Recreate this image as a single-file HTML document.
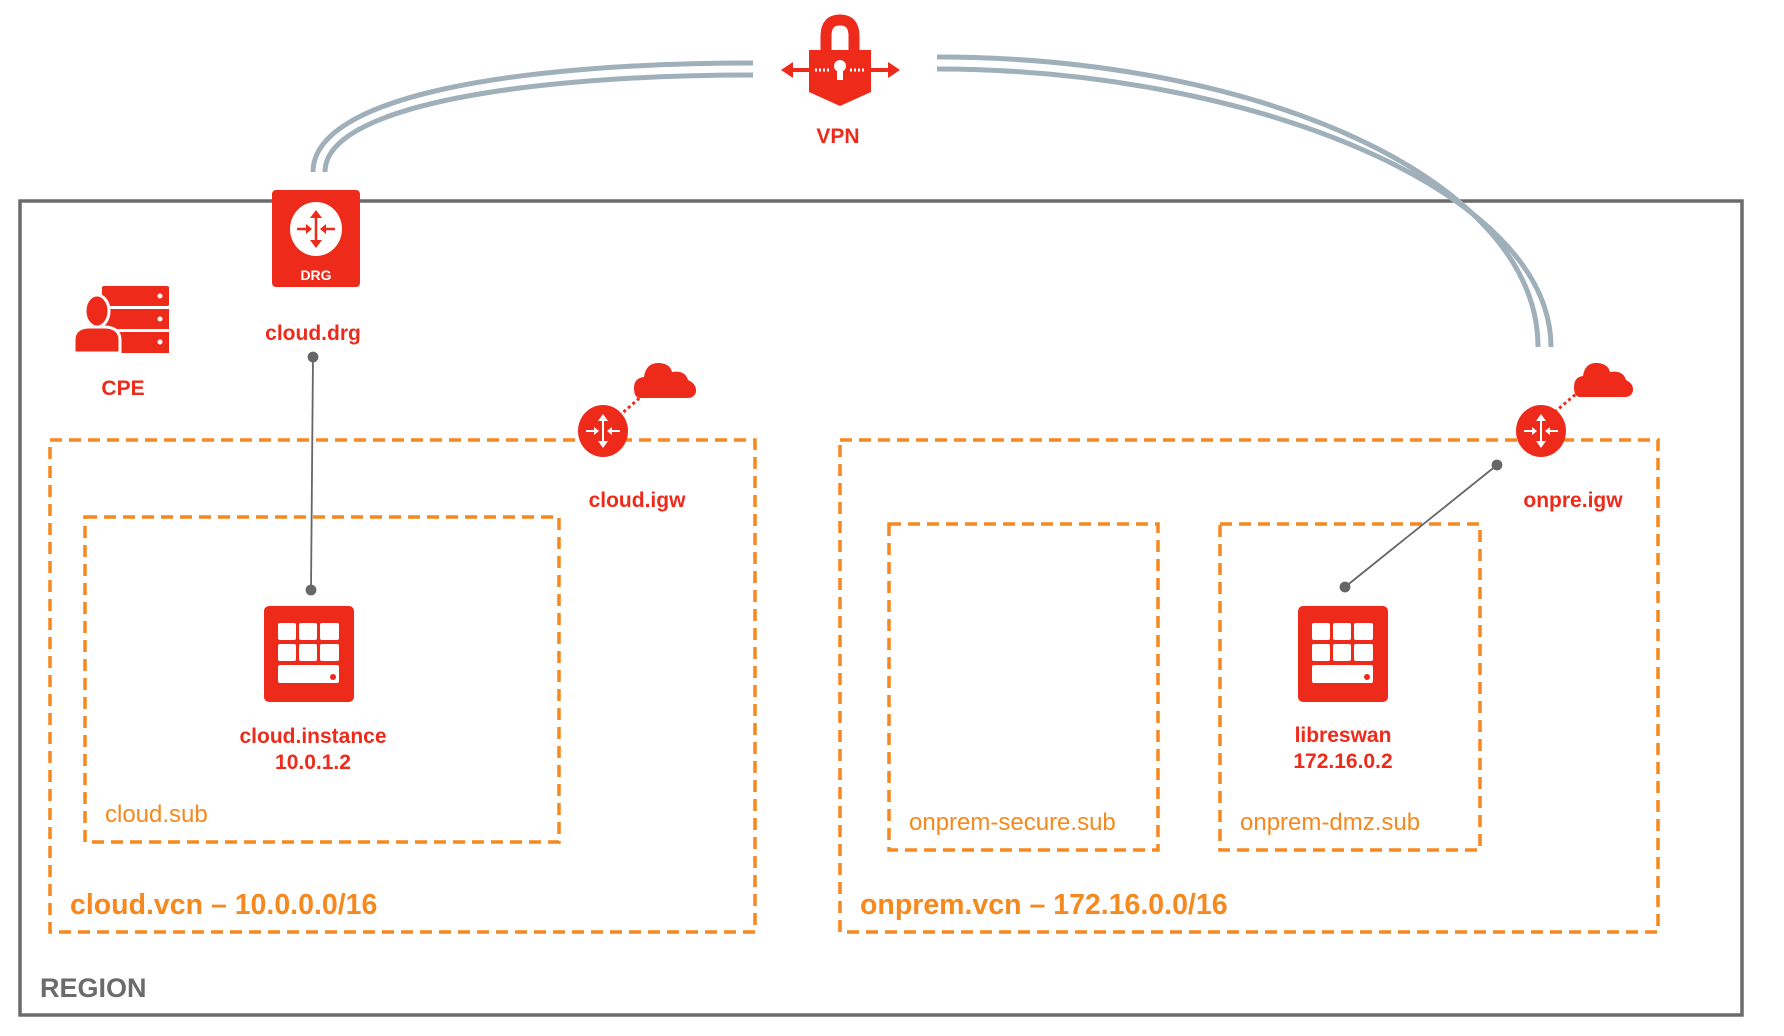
<!DOCTYPE html>
<html><head><meta charset="utf-8"><style>
html,body{margin:0;padding:0;background:#fff;width:1784px;height:1036px;overflow:hidden}
svg{display:block}
.r{font-family:"Liberation Sans",sans-serif;font-weight:bold;fill:#ee2a1b;text-anchor:middle}
.o{font-family:"Liberation Sans",sans-serif;fill:#f5891f}
</style></head><body>
<svg width="1784" height="1036" viewBox="0 0 1784 1036" xmlns="http://www.w3.org/2000/svg">
<rect x="20" y="201" width="1722" height="814" fill="none" stroke="#6b6b6b" stroke-width="3.5"/>
<g fill="none" stroke="#9fb0ba" stroke-width="5">
<path d="M313 172 C313 95 520 63 753 63"/>
<path d="M325 172 C325 105 530 75 753 75"/>
<path d="M937 57 C1260 57 1538 180 1538 347"/>
<path d="M937 69 C1250 69 1551 190 1551 347"/>
</g>
<g fill="none" stroke="#f5891f" stroke-width="3.5" stroke-dasharray="12,7">
<rect x="50" y="440" width="705" height="492"/>
<rect x="85" y="517" width="474" height="325"/>
<rect x="840" y="440" width="818" height="492"/>
<rect x="889" y="524" width="269" height="326"/>
<rect x="1220" y="524" width="260" height="326"/>
</g>
<text class="o" x="70" y="914" font-size="28.5" font-weight="bold">cloud.vcn – 10.0.0.0/16</text>
<text class="o" x="860" y="914" font-size="28.5" font-weight="bold">onprem.vcn – 172.16.0.0/16</text>
<text class="o" x="105" y="822" font-size="24">cloud.sub</text>
<text class="o" x="909" y="830" font-size="24">onprem-secure.sub</text>
<text class="o" x="1240" y="830" font-size="24">onprem-dmz.sub</text>
<text x="40" y="997" font-family="Liberation Sans,sans-serif" font-weight="bold" font-size="27" fill="#6b6b6b">REGION</text>
<g stroke="#666" stroke-width="1.8" fill="#666">
<line x1="313" y1="357" x2="311" y2="590"/>
<circle cx="313" cy="357" r="4.5"/><circle cx="311" cy="590" r="4.5"/>
<line x1="1497" y1="465" x2="1345" y2="587"/>
<circle cx="1497" cy="465" r="4.5"/><circle cx="1345" cy="587" r="4.5"/>
</g>
<rect x="272" y="190" width="88" height="97" rx="4" fill="#ee2a1b"/>
<ellipse cx="316" cy="229" rx="26" ry="27" fill="#fff"/>
<g stroke="#ee2a1b" stroke-width="2.5" fill="#ee2a1b">
<line x1="316" y1="215" x2="316" y2="243"/>
<polygon points="310,218 316,210 322,218" stroke="none"/>
<polygon points="310,240 316,248 322,240" stroke="none"/>
<line x1="297" y1="229" x2="307" y2="229"/><polygon points="306,224 312,229 306,234" stroke="none"/>
<line x1="325" y1="229" x2="335" y2="229"/><polygon points="326,224 320,229 326,234" stroke="none"/>
</g>
<text x="316" y="280" font-family="Liberation Sans,sans-serif" font-weight="bold" font-size="14" fill="#fff" text-anchor="middle">DRG</text>
<text class="r" x="313" y="340" font-size="21">cloud.drg</text>
<g fill="#ee2a1b">
<rect x="102" y="286" width="67" height="20" rx="2"/>
<rect x="102" y="309" width="67" height="20"/>
<rect x="102" y="332" width="67" height="21"/>
<ellipse cx="97" cy="311" rx="12" ry="16" stroke="#fff" stroke-width="3"/>
<path d="M74 353 L74 340 Q74 328 88 327 L106 327 Q120 328 120 340 L120 353 Z" stroke="#fff" stroke-width="3"/>
</g>
<g fill="#fff"><circle cx="160" cy="296" r="2.5"/><circle cx="160" cy="319" r="2.5"/><circle cx="160" cy="342" r="2.5"/></g>
<text class="r" x="123" y="395" font-size="21">CPE</text>
<g fill="#ee2a1b">
<path d="M826 50 L826 36 Q826 20 840 20 Q854 20 854 36 L854 50" fill="none" stroke="#ee2a1b" stroke-width="11"/>
<path d="M809 50 L871 50 L871 92 L840 106 L809 92 Z"/>
<line x1="790" y1="70" x2="895" y2="70" stroke="#ee2a1b" stroke-width="4"/>
<polygon points="781,70 793,62 793,78"/><polygon points="900,70 888,62 888,78"/>
</g>
<circle cx="840" cy="66" r="6" fill="#fff"/><rect x="837" y="66" width="6" height="14" fill="#fff"/>
<g stroke="#fff" stroke-width="3" stroke-dasharray="2,2"><line x1="815" y1="70" x2="830" y2="70"/><line x1="850" y1="70" x2="865" y2="70"/></g>
<text class="r" x="838" y="143" font-size="21">VPN</text>
<g fill="#ee2a1b">
<line x1="619" y1="416" x2="644" y2="394" stroke="#ee2a1b" stroke-width="3" stroke-dasharray="3,3"/>
<path d="M640 398 Q634 398 634 388 Q634 378 644 377 Q646 362 660 363 Q670 364 672 372 Q685 370 688 380 Q697 384 696 392 Q694 398 688 398 Z"/>
<ellipse cx="603" cy="431" rx="25" ry="26"/>
<line x1="1550" y1="416" x2="1576" y2="394" stroke="#ee2a1b" stroke-width="3" stroke-dasharray="3,3"/>
<path d="M1580 397 Q1574 397 1574 387 Q1574 377 1583 376 Q1585 362 1598 363 Q1608 364 1610 372 Q1623 370 1626 380 Q1634 384 1633 391 Q1631 397 1625 397 Z"/>
<ellipse cx="1541" cy="431" rx="25" ry="26"/>
</g>
<g stroke="#fff" stroke-width="2" fill="#fff">
<line x1="603" y1="418" x2="603" y2="444"/><polygon points="598,421 603,414 608,421" stroke="none"/><polygon points="598,441 603,448 608,441" stroke="none"/>
<line x1="586" y1="431" x2="595" y2="431"/><polygon points="594,427 599,431 594,435" stroke="none"/>
<line x1="611" y1="431" x2="620" y2="431"/><polygon points="612,427 607,431 612,435" stroke="none"/>
<line x1="1541" y1="418" x2="1541" y2="444"/><polygon points="1536,421 1541,414 1546,421" stroke="none"/><polygon points="1536,441 1541,448 1546,441" stroke="none"/>
<line x1="1524" y1="431" x2="1533" y2="431"/><polygon points="1532,427 1537,431 1532,435" stroke="none"/>
<line x1="1549" y1="431" x2="1558" y2="431"/><polygon points="1550,427 1545,431 1550,435" stroke="none"/>
</g>
<text class="r" x="637" y="507" font-size="21">cloud.igw</text>
<text class="r" x="1573" y="507" font-size="21">onpre.igw</text>
<g>
<rect x="264" y="606" width="90" height="96" rx="5" fill="#ee2a1b"/>
<g fill="#fff">
<rect x="278" y="623" width="18" height="17" rx="2"/><rect x="299" y="623" width="18" height="17" rx="2"/><rect x="320" y="623" width="19" height="17" rx="2"/>
<rect x="278" y="644" width="18" height="17" rx="2"/><rect x="299" y="644" width="18" height="17" rx="2"/><rect x="320" y="644" width="19" height="17" rx="2"/>
<rect x="278" y="665" width="61" height="18" rx="2"/>
</g><circle cx="333" cy="677" r="3" fill="#ee2a1b"/>
<rect x="1298" y="606" width="90" height="96" rx="5" fill="#ee2a1b"/>
<g fill="#fff">
<rect x="1312" y="623" width="18" height="17" rx="2"/><rect x="1333" y="623" width="18" height="17" rx="2"/><rect x="1354" y="623" width="19" height="17" rx="2"/>
<rect x="1312" y="644" width="18" height="17" rx="2"/><rect x="1333" y="644" width="18" height="17" rx="2"/><rect x="1354" y="644" width="19" height="17" rx="2"/>
<rect x="1312" y="665" width="61" height="18" rx="2"/>
</g><circle cx="1367" cy="677" r="3" fill="#ee2a1b"/>
</g>
<text class="r" x="313" y="743" font-size="21">cloud.instance</text>
<text class="r" x="313" y="769" font-size="21">10.0.1.2</text>
<text class="r" x="1343" y="742" font-size="21">libreswan</text>
<text class="r" x="1343" y="768" font-size="21">172.16.0.2</text>
</svg>
</body></html>
